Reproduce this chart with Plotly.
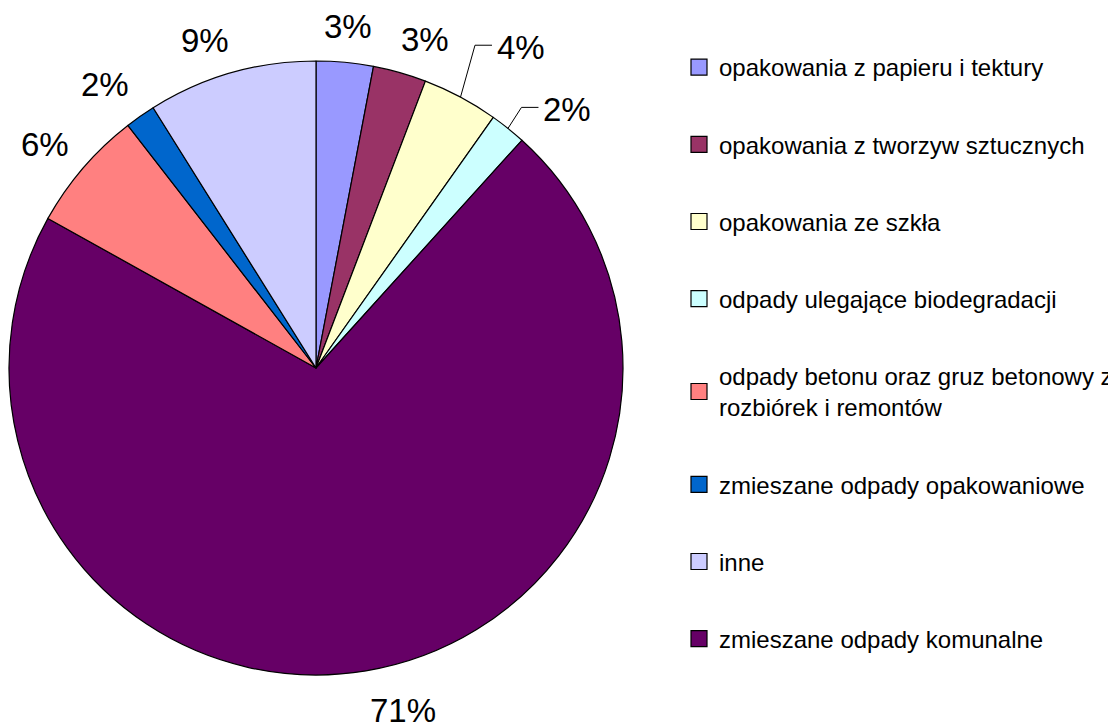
import numpy as np
import plotly.graph_objects as go

# ---- data (pie order, clockwise from 12 o'clock) ----
pie_labels = [
    "opakowania z papieru i tektury",
    "opakowania z tworzyw sztucznych",
    "opakowania ze szkła",
    "odpady ulegające biodegradacji",
    "zmieszane odpady komunalne",
    "odpady betonu oraz gruz betonowy z rozbiórek i remontów",
    "zmieszane odpady opakowaniowe",
    "inne",
]
pie_values = [3.0, 2.8, 4.0, 1.9, 71.4, 6.4, 1.6, 8.9]
pie_colors = ["#9999FF", "#993366", "#FFFFCC", "#CCFFFF", "#660066", "#FF8080", "#0066CC", "#CCCCFF"]

legend_order = [
    "opakowania z papieru i tektury",
    "opakowania z tworzyw sztucznych",
    "opakowania ze szkła",
    "odpady ulegające biodegradacji",
    "odpady betonu oraz gruz betonowy z rozbiórek i remontów",
    "zmieszane odpady opakowaniowe",
    "inne",
    "zmieszane odpady komunalne",
]
legend_text = {
    "odpady betonu oraz gruz betonowy z rozbiórek i remontów":
        "odpady betonu oraz gruz betonowy z<br>rozbiórek i remontów",
}

# ---- layout/style ----
W, H = 1116, 724
OFF = 8  # page body margin offset
CX, CY, R = 316, 368, 307  # screen pixels
FONT = "Liberation Sans, Arial, sans-serif"
# per-label placement tweaks: (angle shift in degrees, radius factor, leader line)
label_style = [(0, 1.118, False), (2.6, 1.127, False), (4.5, 1.24, True), (5.5, 1.175, True),
               (-4.9, 1.15, False), (-1.2, 1.143, False), (-1.7, 1.15, False), (-2.7, 1.127, False)]


def px_x(X):
    return (X - OFF) / W


def px_y(Y):
    return 1 - (Y - OFF) / H


fig = go.Figure()
fig.add_trace(go.Pie(
    labels=pie_labels, values=pie_values, sort=False, direction="clockwise", rotation=0,
    marker=dict(colors=pie_colors, line=dict(color="black", width=1.2)),
    textinfo="none", showlegend=False,
    domain=dict(x=[px_x(CX - R), px_x(CX + R)], y=[px_y(CY + R), px_y(CY - R)]),
))

vals = np.array(pie_values, dtype=float)
frac = vals / vals.sum()
cum = np.cumsum(frac)
mids = cum - frac / 2
annotations, shapes = [], []
for i, (m, f) in enumerate(zip(mids, frac)):
    dth, k, leader = label_style[i]
    th = np.deg2rad(m * 360 + dth)
    lx = CX + k * R * np.sin(th)
    ly = CY - k * R * np.cos(th)
    annotations.append(dict(x=lx, y=ly, xref="x", yref="y", text=f"{round(f * 100):.0f}%",
                            showarrow=False, font=dict(family=FONT, size=33, color="black"),
                            xanchor="center", yanchor="middle"))
    if leader:
        th0 = np.deg2rad(m * 360)
        rx, ry = CX + R * np.sin(th0), CY - R * np.cos(th0)
        shapes.append(dict(type="path", xref="x", yref="y",
                           path=f"M{rx},{ry} L{lx - 46},{ly - 2} L{lx - 29},{ly - 2}",
                           line=dict(color="black", width=1)))

color_of = dict(zip(pie_labels, pie_colors))
for i, name in enumerate(legend_order):
    fig.add_trace(go.Scatter(
        x=[None], y=[None], mode="markers", name=legend_text.get(name, name),
        legendgroup=f"g{i}",
        marker=dict(symbol="square", size=16, color=color_of[name], line=dict(color="black", width=1.2)),
        hoverinfo="skip",
    ))

fig.update_layout(
    width=W, height=H, margin=dict(l=0, r=0, t=0, b=0),
    paper_bgcolor="white", plot_bgcolor="white",
    xaxis=dict(range=[OFF, W + OFF], visible=False, fixedrange=True),
    yaxis=dict(range=[H + OFF, OFF], visible=False, fixedrange=True),
    showlegend=True,
    legend=dict(x=px_x(679), y=px_y(45), xanchor="left", yanchor="top",
                font=dict(family=FONT, size=24, color="black"),
                tracegroupgap=43, traceorder="grouped", bgcolor="rgba(0,0,0,0)"),
    annotations=annotations, shapes=shapes,
)

fig.write_html("out.html")
